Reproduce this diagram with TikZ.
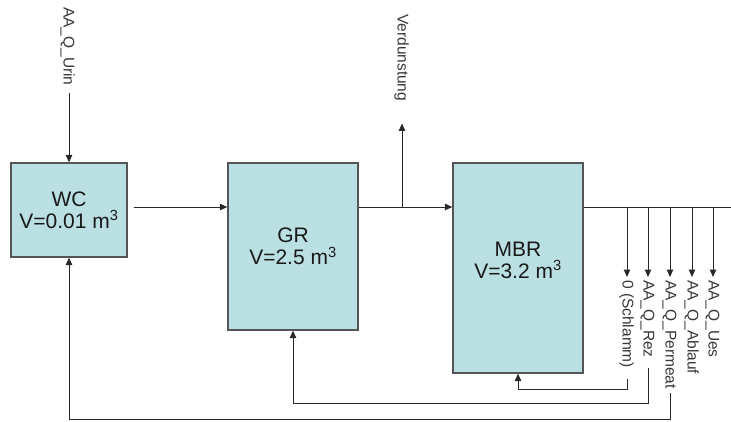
\documentclass[tikz,border=0pt]{standalone}
\usepackage{fontspec}
\setmainfont{Liberation Sans}
\usetikzlibrary{arrows.meta,calc}
\definecolor{boxfill}{RGB}{186,224,227}
\definecolor{boxline}{RGB}{85,85,85}
\definecolor{flowline}{RGB}{40,40,40}
\definecolor{labeltext}{RGB}{55,55,55}
\definecolor{boxtext}{RGB}{25,25,25}
\begin{document}
\begin{tikzpicture}[x=1pt,y=-1pt,
  box/.style={draw=boxline, fill=boxfill, line width=1.3pt, inner sep=0pt,
    align=center, text=boxtext, font=\fontsize{21}{22}\selectfont},
  lbl/.style={font=\fontsize{15.5}{17}\selectfont, text=labeltext,
    rotate=-90, anchor=base west, inner sep=0pt},
  flow/.style={draw=flowline, line width=1pt},
  arr/.style={flow, -{Triangle[length=7.5pt,width=6.5pt]}}]
\useasboundingbox (0,0) rectangle (731,421);

% boxes
\node[box, minimum width=116pt, minimum height=94pt] (wc) at (69,210)
  {WC\\V=0.01 m\textsuperscript{3}};
\node[box, minimum width=130pt, minimum height=167pt] (gr) at (293,246.5)
  {GR\\V=2.5 m\textsuperscript{3}};
\node[box, minimum width=130pt, minimum height=210pt] (mbr) at (518,268)
  {MBR\\V=3.2 m\textsuperscript{3}\\[-6pt]\mbox{}};

% labels
\node[lbl] (urin) at (63.5,7) {AA\_Q\_Urin};
\node[lbl] (verd) at (397.5,14) {Verdunstung};
\node[lbl] (schl) at (622.5,280) {0 (Schlamm)};
\node[lbl] (rez)  at (643.5,280) {AA\_Q\_Rez};
\node[lbl] (perm) at (665.5,280) {AA\_Q\_Permeat};
\node[lbl] (abl)  at (687.5,280) {AA\_Q\_Ablauf};
\node[lbl] (ues)  at (708.5,280) {AA\_Q\_Ues};

% junction coordinates
\coordinate (flowy) at (0,207);
\coordinate (jv) at (402,207);
\coordinate (b1) at (627,207);
\coordinate (b2) at (648,207);
\coordinate (b3) at (670,207);
\coordinate (b4) at (692,207);
\coordinate (b5) at (713,207);
\coordinate (rightend) at (731,207);
\coordinate (r1) at (0,389);
\coordinate (r2) at (0,403);
\coordinate (r3) at (0,419);

% main flow
\draw[arr, shorten <=7pt] (wc.north |- urin.east) -- (wc.north);
\draw[arr] ([xshift=6pt]wc.east |- flowy) -- (gr.west |- flowy);
\draw[arr] (gr.east |- flowy) -- (mbr.west |- flowy);
\draw[arr, shorten >=22pt] (jv) -- (jv |- verd.east);
\draw[flow] (mbr.east |- flowy) -- (rightend);

% outflow branches
\draw[arr, shorten >=3pt] (b1) -- (b1 |- schl.west);
\draw[arr, shorten >=3pt] (b2) -- (b2 |- rez.west);
\draw[arr, shorten >=3pt] (b3) -- (b3 |- perm.west);
\draw[arr, shorten >=3pt] (b4) -- (b4 |- abl.west);
\draw[arr, shorten >=3pt] (b5) -- (b5 |- ues.west);

% return lines
\draw[arr, shorten <=11pt] (b1 |- schl.east) -- (b1 |- r1) -| (mbr.south);
\draw[arr, shorten <=10pt] (b2 |- rez.east) -- (b2 |- r2) -| (gr.south);
\draw[arr, shorten <=4pt] (b3 |- perm.east) -- (b3 |- r3) -| (wc.south);
\end{tikzpicture}
\end{document}
